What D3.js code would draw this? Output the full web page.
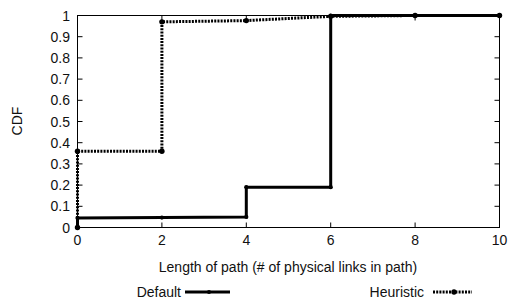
<!DOCTYPE html>
<html><head><meta charset="utf-8">
<script src="https://cdn.jsdelivr.net/npm/d3@7"></script>
<style>body{margin:0;background:#fff}svg{display:block}text{font-family:"Liberation Sans",Arial,sans-serif;fill:#111}</style>
</head><body><svg id="c" width="515" height="299"></svg>
<script>
const xTicks = [0, 2, 4, 6, 8, 10];
const yTicks = [0, 0.1, 0.2, 0.3, 0.4, 0.5, 0.6, 0.7, 0.8, 0.9, 1];
const defaultX = [0, 0, 2, 4, 4, 6, 6, 8, 10];
const defaultY = [0, 0.045, 0.047, 0.05, 0.19, 0.19, 1, 1, 1];
const heurX = [0, 0, 2, 2, 4, 6, 8, 10];
const heurY = [0, 0.36, 0.36, 0.97, 0.976, 0.996, 1, 1];
const seriesNames = ["Default", "Heuristic"];

const svg = d3.select("#c");
const L = 77.5, R = 499.5, T = 15.5, B = 227.5;
const x = d3.scaleLinear().domain([0, 10]).range([L, R]);
const y = d3.scaleLinear().domain([0, 1]).range([B, T]);
const fs = 14;
const sx = 0.95;

const tk = 5;
const g = svg.append("g").attr("stroke", "#000").attr("stroke-width", 1);
yTicks.forEach(v => {
  g.append("line").attr("x1", L).attr("x2", L + tk).attr("y1", y(v)).attr("y2", y(v));
  g.append("line").attr("x1", R).attr("x2", R - tk).attr("y1", y(v)).attr("y2", y(v));
});
xTicks.forEach(v => {
  g.append("line").attr("x1", x(v)).attr("x2", x(v)).attr("y1", B).attr("y2", B - tk);
  g.append("line").attr("x1", x(v)).attr("x2", x(v)).attr("y1", T).attr("y2", T + tk);
});
svg.append("rect").attr("x", L).attr("y", T).attr("width", R - L).attr("height", B - T)
  .attr("fill", "none").attr("stroke", "#000").attr("stroke-width", 1);

svg.selectAll(".yl").data(yTicks).join("text").attr("x", 70).attr("y", d => y(d) + 5)
  .attr("text-anchor", "end").attr("font-size", fs).text(d => d3.format("")(d));
svg.selectAll(".xl").data(xTicks).join("text").attr("x", d => x(d)).attr("y", 245)
  .attr("text-anchor", "middle").attr("font-size", fs).text(d => d);

svg.append("text").attr("transform", "translate(22,121) rotate(-90)").attr("text-anchor", "middle")
  .attr("font-size", fs).text("CDF");
svg.append("text").attr("x", 288).attr("y", 272).attr("text-anchor", "middle").attr("font-size", fs)
  .text("Length of path (# of physical links in path)");

const line = d3.line().x(d => x(d[0])).y(d => y(d[1]));
const dData = defaultX.map((v, i) => [v, defaultY[i]]);
const hData = heurX.map((v, i) => [v, heurY[i]]);

svg.append("path").attr("d", line(hData)).attr("fill", "none").attr("stroke", "#000")
  .attr("stroke-width", 3).attr("stroke-dasharray", "2,1.2");
svg.append("path").attr("d", line(dData)).attr("fill", "none").attr("stroke", "#000")
  .attr("stroke-width", 3);
svg.selectAll(".hp").data(hData).join("circle").attr("cx", d => x(d[0])).attr("cy", d => y(d[1])).attr("r", 2.7);
svg.selectAll(".dp").data(dData).join("circle").attr("cx", d => x(d[0])).attr("cy", d => y(d[1])).attr("r", 2.1);

const ly = 292;
svg.append("text").attr("x", 181).attr("y", ly + 5).attr("text-anchor", "end")
  .attr("font-size", fs).text(seriesNames[0]);
svg.append("line").attr("x1", 185).attr("x2", 230).attr("y1", ly).attr("y2", ly).attr("stroke", "#000").attr("stroke-width", 3);
svg.append("circle").attr("cx", 209).attr("cy", ly).attr("r", 2.1);
svg.append("text").attr("x", 424).attr("y", ly + 5).attr("text-anchor", "end")
  .attr("font-size", fs).text(seriesNames[1]);
svg.append("line").attr("x1", 433).attr("x2", 472).attr("y1", ly).attr("y2", ly).attr("stroke", "#000")
  .attr("stroke-width", 3).attr("stroke-dasharray", "2,1.2");
svg.append("circle").attr("cx", 454).attr("cy", ly).attr("r", 2.7);
</script></body></html>
